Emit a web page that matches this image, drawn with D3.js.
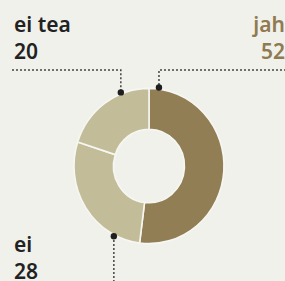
<!DOCTYPE html>
<html><head><meta charset="utf-8">
<script src="https://cdn.jsdelivr.net/npm/d3@7"></script>
<style>
html,body{margin:0;padding:0;background:#f1f1ec;overflow:hidden}
svg{display:block}
text{font-family:"Noto Sans",sans-serif;font-weight:600}
</style></head>
<body>
<script>
const categories = ["jah", "ei", "ei tea"];
const values = [52, 28, 20];
const colors = ["#927e55", "#c2bd98", "#c2bd98"];
const textColors = ["#8f7b52", "#222222", "#222222"];

const W = 285, H = 281;
const svg = d3.select("body").append("svg").attr("width", W).attr("height", H);
svg.append("rect").attr("width", W).attr("height", H).attr("fill", "#f1f1ec");

const cx = 149, cy = 166, rOuter = 75, rInner = 35.5, sy = 1.035;
const pie = d3.pie().sort(null).value(d => d)(values);
const arc = d3.arc().innerRadius(rInner).outerRadius(rOuter);
const g = svg.append("g").attr("transform", `translate(${cx},${cy}) scale(1,${sy})`);
g.selectAll("path").data(pie).join("path")
  .attr("d", arc).attr("fill", (d, i) => colors[i])
  .attr("stroke", "#f6f6f2").attr("stroke-width", 1.6);

// leader anchor angle (fraction of slice) and label layout
const anchorFrac = [0.04, 0.2, 0.7];
const pts = pie.map((d, i) => {
  const a = d.startAngle + (d.endAngle - d.startAngle) * anchorFrac[i];
  const r = rOuter + 1.5;
  return [cx + r * Math.sin(a), cy - r * Math.cos(a) * sy];
});

const lineY = 70;
const leaders = [
  [[W + 5, lineY], [pts[0][0], lineY], pts[0]],
  [[pts[1][0], H + 5], pts[1]],
  [[12, lineY], [pts[2][0], lineY], pts[2]]
];
const line = d3.line();
svg.selectAll("path.leader").data(leaders).join("path").attr("class", "leader")
  .attr("d", line).attr("fill", "none").attr("stroke", "#444")
  .attr("stroke-width", 1.5).attr("stroke-dasharray", "2,2");
svg.selectAll("circle.dot").data(pts).join("circle").attr("class", "dot")
  .attr("cx", d => d[0]).attr("cy", d => d[1]).attr("r", 3.2).attr("fill", "#1e1e1e");

const labelPos = [
  {x: 285, y: 31.5, anchor: "end", weight: 700},
  {x: 14, y: 251.5, anchor: "start", weight: 600},
  {x: 14, y: 31.5, anchor: "start", weight: 600}
];
categories.forEach((c, i) => {
  const p = labelPos[i];
  const t = svg.append("text").attr("x", p.x).attr("y", p.y)
    .attr("text-anchor", p.anchor).attr("fill", textColors[i])
    .attr("font-size", 21).attr("font-weight", p.weight);
  t.append("tspan").attr("x", p.x).text(c);
  t.append("tspan").attr("x", p.x).attr("dy", 27.5).text(values[i]);
});
</script>
</body></html>
